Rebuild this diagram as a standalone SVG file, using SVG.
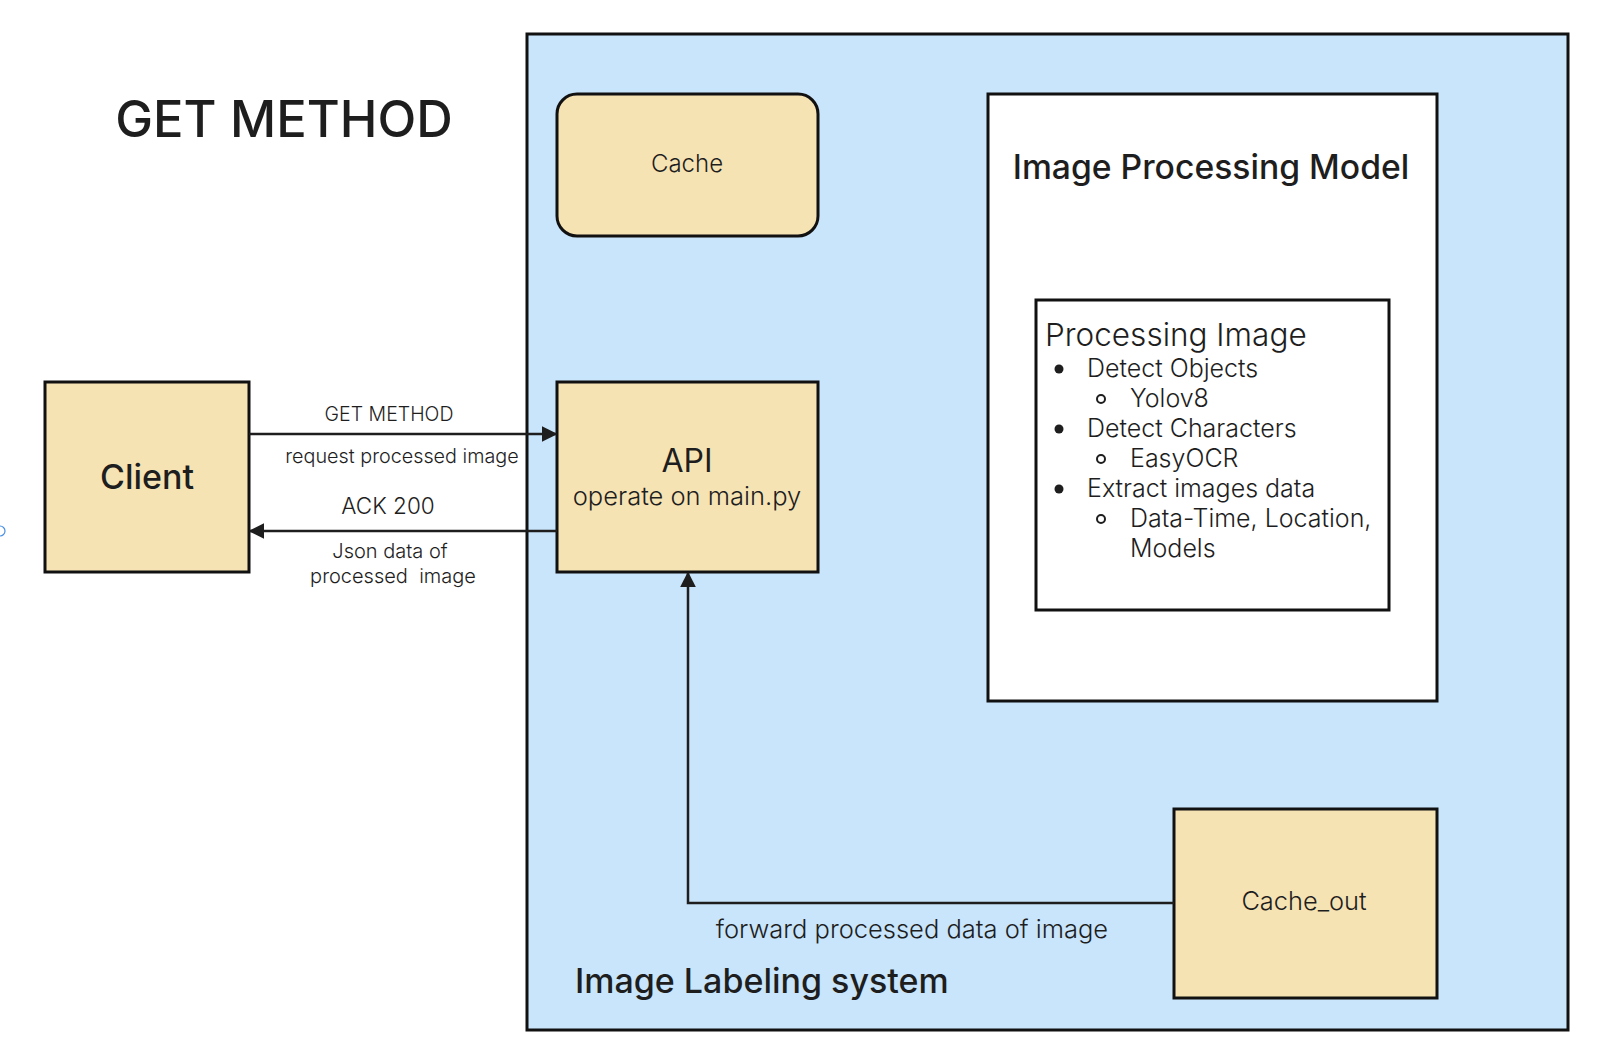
<svg xmlns="http://www.w3.org/2000/svg" width="1600" height="1058" viewBox="0 0 1600 1058">
<defs>
<style>
text{font-family:Inter,"Liberation Sans",sans-serif;fill:#1e1e1e}
.box{stroke:#111;stroke-width:3}
.tan{fill:#F6E3B4}
.c{text-anchor:middle}
.l{font-weight:300}
.edge{stroke:#1e1e1e;stroke-width:2.5;fill:none}
</style>
<marker id="ah2" viewBox="0 0 10 10" refX="9" refY="5" markerWidth="16" markerHeight="16" orient="auto" markerUnits="userSpaceOnUse">
<path d="M0,0 L10,5 L0,10 z" fill="#1e1e1e"/>
</marker>
</defs>
<rect width="1600" height="1058" fill="#fff"/>
<text x="284" y="137" class="c" font-size="50.6" font-weight="500">GET METHOD</text>
<circle cx="0" cy="531" r="5" fill="none" stroke="#4a90e2" stroke-width="1.2"/>

<g id="system">
<rect x="527" y="34" width="1041" height="996" fill="#C8E5FB" class="box"/>
<text x="575" y="993" font-size="34" font-weight="500">Image Labeling system</text>
</g>

<g id="cache">
<rect x="557" y="94" width="261" height="142" rx="20" class="box tan"/>
<text x="687" y="172" class="c l" font-size="24">Cache</text>
</g>

<g id="model">
<rect x="988" y="94" width="449" height="607" fill="#fff" class="box"/>
<text x="1211" y="179" class="c" font-size="33.7" font-weight="500">Image Processing Model</text>
</g>

<g id="processing">
<rect x="1036" y="300" width="353" height="310" fill="#fff" class="box"/>
<text x="1045" y="346" class="l" font-size="31.5">Processing Image</text>
<g font-size="25" class="l">
<circle cx="1059" cy="369" r="4.5" fill="#1e1e1e"/>
<text x="1087" y="377" class="l">Detect Objects</text>
<circle cx="1101" cy="399" r="4" fill="none" stroke="#1e1e1e" stroke-width="2"/>
<text x="1130" y="407" class="l">Yolov8</text>
<circle cx="1059" cy="429" r="4.5" fill="#1e1e1e"/>
<text x="1087" y="437" class="l">Detect Characters</text>
<circle cx="1101" cy="459" r="4" fill="none" stroke="#1e1e1e" stroke-width="2"/>
<text x="1130" y="467" class="l">EasyOCR</text>
<circle cx="1059" cy="489" r="4.5" fill="#1e1e1e"/>
<text x="1087" y="497" class="l">Extract images data</text>
<circle cx="1101" cy="519" r="4" fill="none" stroke="#1e1e1e" stroke-width="2"/>
<text x="1130" y="527" class="l">Data-Time, Location,</text>
<text x="1130" y="557" class="l">Models</text>
</g>
</g>

<g id="client">
<rect x="45" y="382" width="204" height="190" class="box tan"/>
<text x="147" y="489" class="c" font-size="34" font-weight="500">Client</text>
</g>

<g id="api">
<rect x="557" y="382" width="261" height="190" class="box tan"/>
<text x="687" y="472" class="c" font-size="32">API</text>
<text x="687" y="505" class="c l" font-size="25.5">operate on main.py</text>
</g>

<g id="cache_out">
<rect x="1174" y="809" width="263" height="189" class="box tan"/>
<text x="1304" y="910" class="c l" font-size="25.4">Cache_out</text>
</g>

<g id="connectors">
<line x1="249" y1="434" x2="556" y2="434" class="edge" marker-end="url(#ah2)"/>
<line x1="557" y1="531" x2="250" y2="531" class="edge" marker-end="url(#ah2)"/>
<polyline points="1174,903 688,903 688,573" class="edge" marker-end="url(#ah2)"/>
<text x="389" y="421" class="c l" font-size="19.5">GET METHOD</text>
<text x="402" y="463" class="c l" font-size="19.8">request processed image</text>
<text x="388" y="514" class="c l" font-size="22.5">ACK 200</text>
<text x="390" y="558" class="c l" font-size="20">Json data of</text>
<text x="393" y="583" class="c l" font-size="20" xml:space="preserve">processed  image</text>
<text x="912" y="938" class="c l" font-size="25.5">forward processed data of image</text>
</g>
</svg>
